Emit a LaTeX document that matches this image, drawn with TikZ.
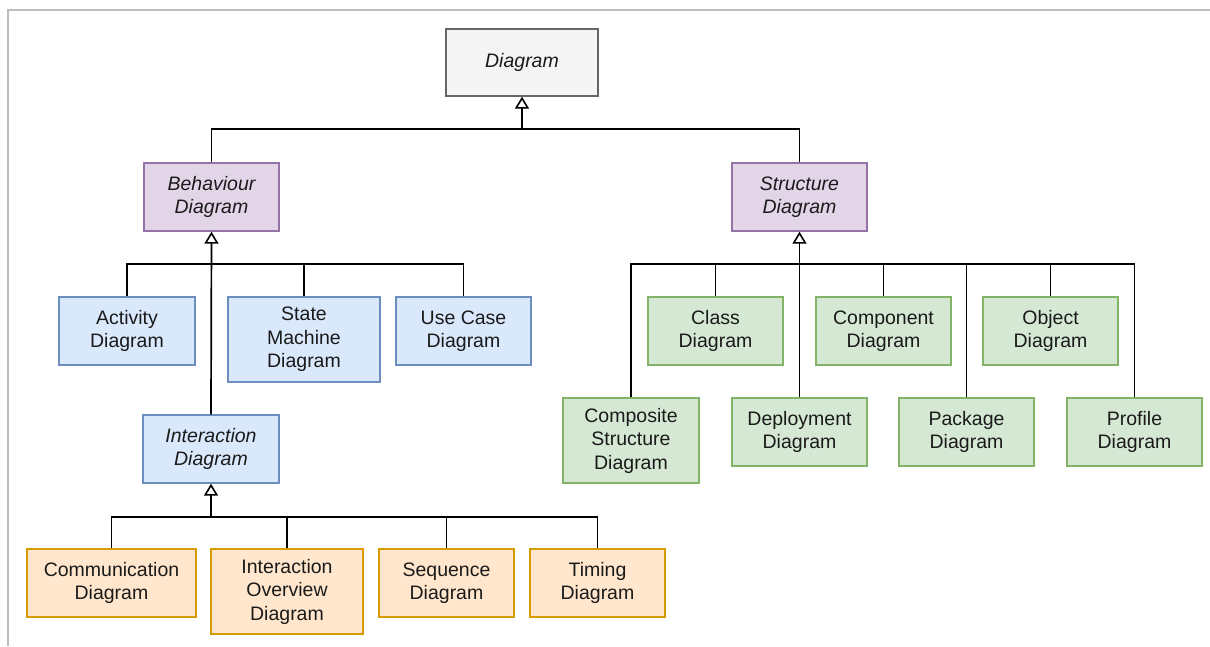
\documentclass[tikz,border=0pt]{standalone}
\usepackage{fontspec}
\setmainfont{Liberation Sans}
\usetikzlibrary{arrows.meta}
\definecolor{txt}{HTML}{1A1A1A}
\definecolor{frameg}{HTML}{BDBDBD}
\definecolor{grayfill}{HTML}{F5F5F5}\definecolor{graydraw}{HTML}{666666}
\definecolor{purfill}{HTML}{E1D5E7}\definecolor{purdraw}{HTML}{9673A6}
\definecolor{bluefill}{HTML}{DAE8FC}\definecolor{bluedraw}{HTML}{6C8EBF}
\definecolor{grnfill}{HTML}{D5E8D4}\definecolor{grndraw}{HTML}{82B366}
\definecolor{orgfill}{HTML}{FFE6CC}\definecolor{orgdraw}{HTML}{D79B00}
\tikzset{
  box/.style={rectangle, line width=1.4pt, inner sep=0pt, align=center,
    text=txt, minimum width=135pt, minimum height=68pt,
    font=\fontsize{19.5}{23.5}\selectfont},
  tall/.style={minimum height=85pt},
  abstract/.style={font=\fontsize{19.5}{23.5}\selectfont\itshape},
  root/.style={box, fill=grayfill, draw=graydraw, minimum width=152pt, minimum height=67pt},
  purbox/.style={box, fill=purfill, draw=purdraw},
  bluebox/.style={box, fill=bluefill, draw=bluedraw},
  grnbox/.style={box, fill=grnfill, draw=grndraw},
  orgbox/.style={box, fill=orgfill, draw=orgdraw},
  link/.style={draw=black, line width=1.7pt},
  inherit/.style={link, -{Triangle[open, length=12pt, width=14pt, fill=white, line width=1.6pt]}},
}
\begin{document}
\begin{tikzpicture}[x=1pt, y=-1pt]
\useasboundingbox (0,0) rectangle (1210,646);
% page frame
\draw[frameg, line width=2.2pt] (8,646) -- (8,10) -- (1210,10);

% root
\node[root, abstract] (diag) at (522,62.5) {Diagram};

% second level
\node[purbox, abstract] (beh) at (211.5,197) {Behaviour\\Diagram};
\node[purbox, abstract] (str) at (799.5,197) {Structure\\Diagram};

% behaviour diagrams
\node[bluebox, minimum width=136pt] (act) at (127,331) {Activity\\Diagram};
\node[bluebox, tall, minimum width=152pt] (sm) at (304,339.5) {State\\Machine\\Diagram};
\node[bluebox] (uc) at (463.5,331) {Use Case\\Diagram};
\node[bluebox, abstract, minimum width=136pt] (int) at (211,449) {Interaction\\Diagram};

% interaction diagrams
\node[orgbox, minimum width=169pt] (comm) at (111.5,583) {Communication\\Diagram};
\node[orgbox, tall, minimum width=152pt] (ov) at (287,591.5) {Interaction\\Overview\\Diagram};
\node[orgbox] (seq) at (446.5,583) {Sequence\\Diagram};
\node[orgbox] (tim) at (597.5,583) {Timing\\Diagram};

% structure diagrams
\node[grnbox] (cls) at (715.5,331) {Class\\Diagram};
\node[grnbox] (cmp) at (883.5,331) {Component\\Diagram};
\node[grnbox] (obj) at (1050.5,331) {Object\\Diagram};
\node[grnbox, tall, minimum width=136pt] (cs) at (631,440.5) {Composite\\Structure\\Diagram};
\node[grnbox] (dep) at (799.5,432) {Deployment\\Diagram};
\node[grnbox] (pkg) at (966.5,432) {Package\\Diagram};
\node[grnbox] (prof) at (1134.5,432) {Profile\\Diagram};

% junctions of the generalisation trees
\coordinate (jD) at (522,129);
\coordinate (jB) at (211.5,264);
\coordinate (jS) at (799.5,264);
\coordinate (jI) at (211,517);

% Diagram hierarchy
\draw[link] (beh.north) |- (jD);
\draw[link] (str.north) |- (jD);
\draw[inherit] (jD) -- (diag.south);

% Behaviour hierarchy
\draw[link] (act.north) |- (jB);
\draw[link] (sm.north) |- (jB);
\draw[link] (uc.north) |- (jB);
\draw[inherit] (int.north) -- (beh.south);

% Interaction hierarchy
\draw[link] (comm.north) |- (jI);
\draw[link] (ov.north) |- (jI);
\draw[link] (seq.north) |- (jI);
\draw[link] (tim.north) |- (jI);
\draw[inherit] (jI) -- (int.south);

% Structure hierarchy
\draw[link] (cs.north) |- (jS);
\draw[link] (cls.north) |- (jS);
\draw[link] (cmp.north) |- (jS);
\draw[link] (obj.north) |- (jS);
\draw[link] (pkg.north) |- (jS);
\draw[link] (prof.north) |- (jS);
\draw[inherit] (dep.north) -- (str.south);
\end{tikzpicture}
\end{document}
